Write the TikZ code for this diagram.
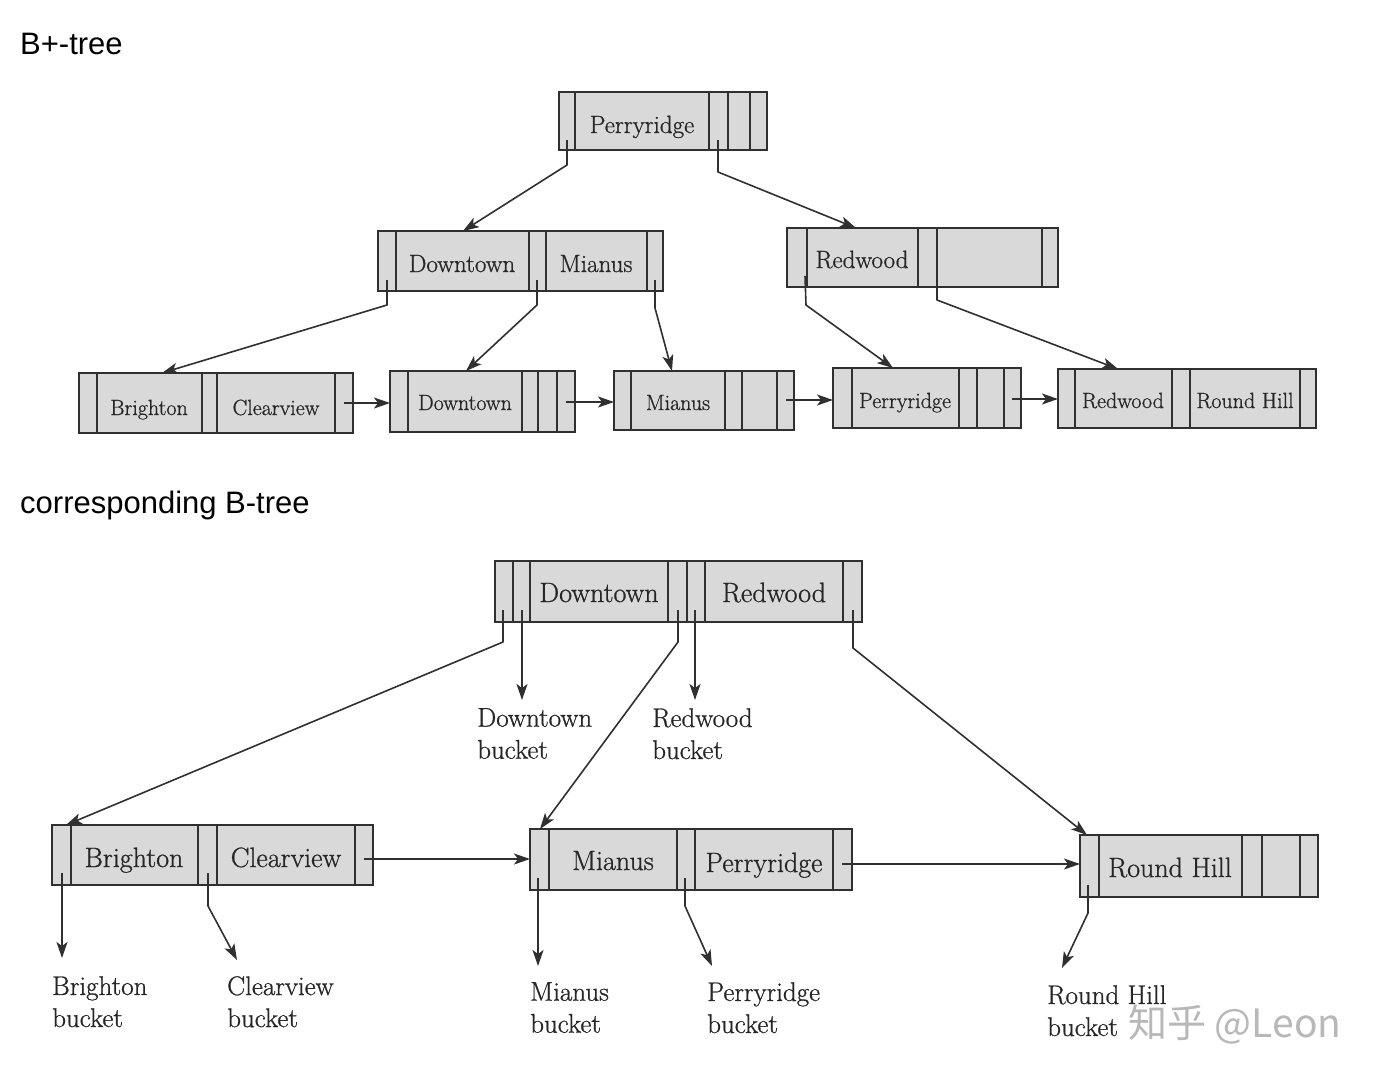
\documentclass[tikz,border=0pt]{standalone}
\usepackage{fontspec}
\newfontfamily\headfont{Liberation Sans}
\newfontfamily\cjkfont{Noto Sans CJK SC}
\newfontfamily\keyfont{Latin Modern Roman}[FakeBold=0.8]
\usetikzlibrary{arrows.meta}
\definecolor{ink}{HTML}{303030}
\definecolor{txt}{HTML}{262626}
\definecolor{cellfill}{HTML}{D9D9D9}
\definecolor{wm}{HTML}{B8B8B8}
\tikzset{
  nodebox/.style={draw=ink, fill=cellfill, line width=1.8pt, inner sep=0pt, outer sep=0pt},
  divline/.style={draw=ink, line width=1.6pt},
  keyA/.style={inner sep=0pt, anchor=base, text=txt, font=\keyfont\fontsize{25}{30}\selectfont},
  keyL/.style={inner sep=0pt, anchor=base, text=txt, font=\keyfont\fontsize{22}{26}\selectfont},
  keyB/.style={inner sep=0pt, anchor=base, text=txt, font=\keyfont\fontsize{28}{33}\selectfont},
  bucketlbl/.style={inner sep=0pt, anchor=north west, align=left, text=txt, font=\keyfont\fontsize{27}{32}\selectfont},
  ptr/.style={draw=ink, line width=1.6pt, line join=round, -{Stealth[length=16pt,width=11pt,inset=4pt]}},
  heading/.style={inner sep=0pt, anchor=base west, font=\headfont\fontsize{31}{36}\selectfont},
}
\newcommand\tnbox[6]{%
  \node[nodebox, anchor=north west, minimum width={#4-#2}, minimum height={#5-#3}] (#1) at (#2,#3) {};
  \foreach \xx in {#6} {\draw[divline] (\xx,#3) -- (\xx,#5);}
}
\begin{document}
\begin{tikzpicture}[x=1pt,y=-1pt]
\useasboundingbox (0,0) rectangle (1392,1080);
\fill[white] (0,0) rectangle (1392,1080);

% headings
\node[heading] (h1) at (20,54) {B+-tree};
\node[heading] (h2) at (20,513) {corresponding B-tree};

% ---------------- B+-tree ----------------
\tnbox{R}{559}{92}{767}{150}{575,709,728,750}
\tnbox{I1}{378}{231}{663}{291}{396,529,546,647}
\tnbox{I2}{787}{228}{1058}{287}{807,918,937,1042}
\tnbox{L1}{79}{373}{353}{433}{97,202,217,335}
\tnbox{L2}{390}{371}{575}{432}{408,522,538,557}
\tnbox{L3}{614}{371}{794}{430}{631,725,742,777}
\tnbox{L4}{833}{368}{1021}{428}{852,959,977,1004}
\tnbox{L5}{1058}{369}{1316}{428}{1075,1172,1190,1300}

\node[keyA] (R-k1) at (642,133) {Perryridge};
\node[keyA] (I1-k1) at (462,272) {Downtown};
\node[keyA] (I1-k2) at (596,272) {Mianus};
\node[keyA] (I2-k1) at (862,268) {Redwood};
\node[keyL] (L1-k1) at (149,415) {Brighton};
\node[keyL] (L1-k2) at (276,415) {Clearview};
\node[keyL] (L2-k1) at (465,410) {Downtown};
\node[keyL] (L3-k1) at (678,410) {Mianus};
\node[keyL] (L4-k1) at (905,408) {Perryridge};
\node[keyL] (L5-k1) at (1123,408) {Redwood};
\node[keyL] (L5-k2) at (1245,408) {Round Hill};

\coordinate (R-p1) at (567,140);  \coordinate (R-p1b) at (567,165);  \coordinate (I1-in) at (463,231);
\coordinate (R-p2) at (718,140);  \coordinate (R-p2b) at (718,172);  \coordinate (I2-in) at (856,228);
\coordinate (I1-p1) at (387,280); \coordinate (I1-p1b) at (387,305); \coordinate (L1-in) at (162,373);
\coordinate (I1-p2) at (537,280); \coordinate (I1-p2b) at (537,305); \coordinate (L2-in) at (466,371);
\coordinate (I1-p3) at (655,280); \coordinate (I1-p3b) at (655,308); \coordinate (L3-in) at (672,371);
\coordinate (I2-p1) at (805,276); \coordinate (I2-p1b) at (806,305); \coordinate (L4-in) at (893,368);
\coordinate (I2-p2) at (937,276); \coordinate (I2-p2b) at (937,300); \coordinate (L5-in) at (1118,369);
\coordinate (L1-nx) at (344,403);
\coordinate (L2-nx) at (566,402);
\coordinate (L3-nx) at (786,400);
\coordinate (L4-nx) at (1012,399);

\draw[ptr] (R-p1) -- (R-p1b) -- (I1-in);
\draw[ptr] (R-p2) -- (R-p2b) -- (I2-in);
\draw[ptr] (I1-p1) -- (I1-p1b) -- (L1-in);
\draw[ptr] (I1-p2) -- (I1-p2b) -- (L2-in);
\draw[ptr] (I1-p3) -- (I1-p3b) -- (L3-in);
\draw[ptr] (I2-p1) -- (I2-p1b) -- (L4-in);
\draw[ptr] (I2-p2) -- (I2-p2b) -- (L5-in);
\draw[ptr] (L1-nx) -- (L1-nx -| L2.west);
\draw[ptr] (L2-nx) -- (L2-nx -| L3.west);
\draw[ptr] (L3-nx) -- (L3-nx -| L4.west);
\draw[ptr] (L4-nx) -- (L4-nx -| L5.west);

% ---------------- B-tree ----------------
\tnbox{BR}{495}{561}{862}{622}{513,530,668,687,705,843}
\tnbox{B1}{52}{825}{373}{885}{71,198,217,355}
\tnbox{B2}{530}{829}{852}{890}{549,677,695,833}
\tnbox{B3}{1080}{835}{1318}{897}{1099,1242,1262,1300}

\node[keyB] (BR-k1) at (599,602) {Downtown};
\node[keyB] (BR-k2) at (774,602) {Redwood};
\node[keyB] (B1-k1) at (134,867) {Brighton};
\node[keyB] (B1-k2) at (286,867) {Clearview};
\node[keyB] (B2-k1) at (613,870) {Mianus};
\node[keyB] (B2-k2) at (764,872) {Perryridge};
\node[keyB] (B3-k1) at (1170,877) {Round Hill};

\node[bucketlbl] (dtb) at (477,708) {Downtown\\bucket};
\node[bucketlbl] (rwb) at (652,708) {Redwood\\bucket};
\node[bucketlbl] (brb) at (52,976) {Brighton\\bucket};
\node[bucketlbl] (clb) at (227,976) {Clearview\\bucket};
\node[bucketlbl] (mib) at (530,982) {Mianus\\bucket};
\node[bucketlbl] (peb) at (707,982) {Perryridge\\bucket};
\node[bucketlbl] (rhb) at (1047,985) {Round Hill\\bucket};

\coordinate (BR-p1) at (503,610); \coordinate (BR-p1b) at (503,642); \coordinate (B1-in) at (66,825);
\coordinate (BR-b1) at (522,610); \coordinate (dtb-tip) at (522,700);
\coordinate (BR-p2) at (678,610); \coordinate (BR-p2b) at (678,642); \coordinate (B2-in) at (540,829);
\coordinate (BR-b2) at (695,610); \coordinate (rwb-tip) at (695,700);
\coordinate (BR-p3) at (853,610); \coordinate (BR-p3b) at (853,648); \coordinate (B3-in) at (1087,835);
\coordinate (B1-p1) at (62,873);  \coordinate (brb-tip) at (62,958);
\coordinate (B1-p2) at (208,873); \coordinate (B1-p2b) at (208,906); \coordinate (clb-tip) at (237,960);
\coordinate (B2-p1) at (538,878); \coordinate (mib-tip) at (538,966);
\coordinate (B2-p2) at (685,878); \coordinate (B2-p2b) at (685,906); \coordinate (peb-tip) at (712,966);
\coordinate (B3-p1) at (1088,885); \coordinate (B3-p1b) at (1088,913); \coordinate (rhb-tip) at (1062,968);
\coordinate (B1-nx) at (364,859);
\coordinate (B2-nx) at (842,864);

\draw[ptr] (BR-p1) -- (BR-p1b) -- (B1-in);
\draw[ptr] (BR-b1) -- (dtb-tip);
\draw[ptr] (BR-p2) -- (BR-p2b) -- (B2-in);
\draw[ptr] (BR-b2) -- (rwb-tip);
\draw[ptr] (BR-p3) -- (BR-p3b) -- (B3-in);
\draw[ptr] (B1-p1) -- (brb-tip);
\draw[ptr] (B1-p2) -- (B1-p2b) -- (clb-tip);
\draw[ptr] (B2-p1) -- (mib-tip);
\draw[ptr] (B2-p2) -- (B2-p2b) -- (peb-tip);
\draw[ptr] (B3-p1) -- (B3-p1b) -- (rhb-tip);
\draw[ptr] (B1-nx) -- (B1-nx -| B2.west);
\draw[ptr] (B2-nx) -- (B2-nx -| B3.west);

% watermark
\node[anchor=base west, inner sep=0pt, text=wm, font=\cjkfont\fontsize{39}{44}\selectfont] (wmk) at (1128,1037) {知乎 @Leon};
\end{tikzpicture}
\end{document}
